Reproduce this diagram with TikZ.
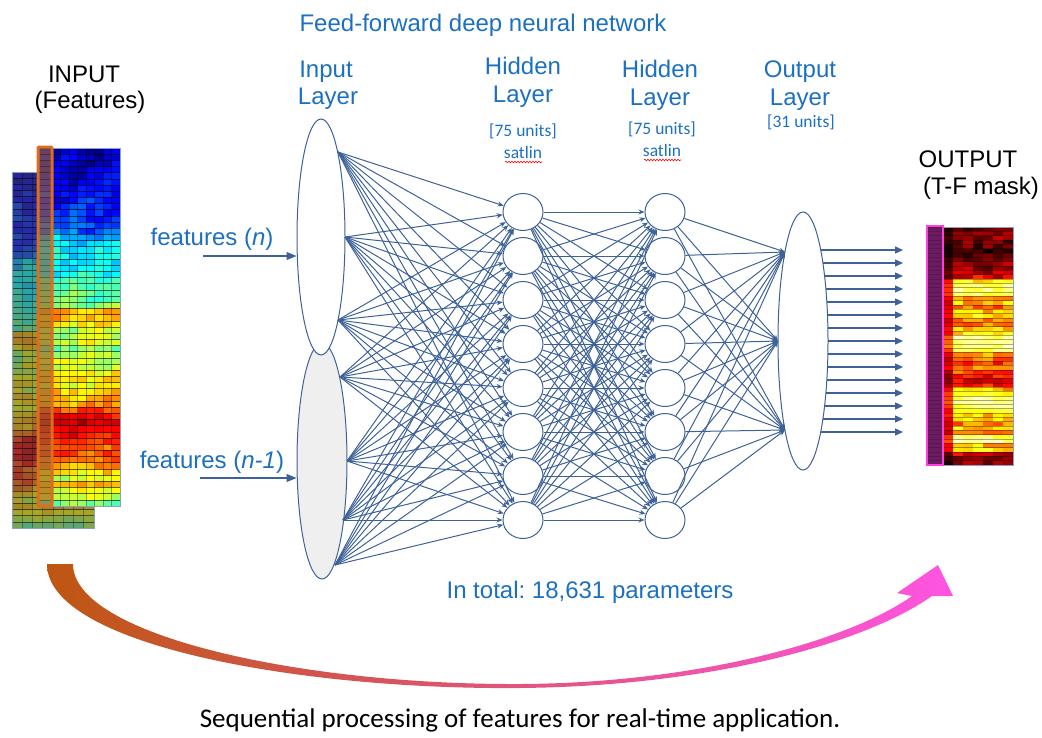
\documentclass[tikz,border=0pt]{standalone}
\usepackage{fontspec}
\setmainfont{Liberation Sans}
\newfontfamily\calfont{Carlito}
\usetikzlibrary{arrows.meta,shapes.geometric,decorations.pathmorphing}
\frenchspacing

\definecolor{netblue}{RGB}{62,98,152}
\definecolor{lblblue}{RGB}{28,112,192}
\definecolor{layergray}{RGB}{239,239,239}
\definecolor{framemag}{RGB}{255,64,224}
\definecolor{framefill}{RGB}{106,28,96}
\definecolor{frameorange}{RGB}{222,110,30}
\definecolor{arcL}{RGB}{190,86,16}
\definecolor{arcR}{RGB}{255,84,226}

% row profiles of the two spectrogram-like maps (0 = low, 1 = high)
\def\featvals{{0.06,0.07,0.08,0.09,0.1,0.12,0.13,0.14,0.15,0.16,0.17,0.18,0.2,0.22,
0.3,0.34,0.36,0.37,0.36,0.38,0.4,
0.44,0.46,0.47,0.48,0.5,
0.68,0.7,0.66,
0.56,0.55,0.58,0.5,0.56,0.6,0.58,
0.64,0.66,0.62,0.68,0.7,0.72,
0.8,0.88,0.92,0.9,0.88,0.84,
0.78,0.8,0.76,0.72,
0.64,0.6,0.7,0.62,0.58,0.5}}
\def\maskvals{{0.12,0.15,0.18,0.14,0.12,0.1,0.12,0.15,0.18,0.2,0.22,0.3,
0.65,0.8,0.82,0.76,
0.52,0.58,0.48,0.6,0.64,0.52,0.48,0.58,0.62,
0.82,0.88,0.84,0.76,
0.55,0.48,0.42,0.5,0.45,0.38,
0.28,0.33,
0.58,0.7,0.84,0.88,0.8,0.7,
0.58,0.64,0.48,0.62,0.52,
0.76,0.86,0.58,0.66,
0.28,0.2,0.15}}

\begin{document}
\begin{tikzpicture}[x=1pt,y=-1pt,
  neuron/.style={ellipse, draw=netblue, line width=1pt, fill=white,
    minimum width=40pt, minimum height=37pt, inner sep=0pt},
  layerbody/.style={ellipse, draw=netblue, line width=1pt, inner sep=0pt},
  edge/.style={draw=netblue, line width=1pt, -{Stealth[length=6pt,width=5pt]}},
  outarrow/.style={draw=netblue, line width=1.3pt, -{Triangle[length=8pt,width=7pt]}},
  featarrow/.style={draw=netblue, line width=1.1pt, -{Triangle[length=10pt,width=8pt]}},
  bluelbl/.style={text=lblblue, font=\fontsize{24}{28}\selectfont, inner sep=0pt, anchor=base},
  unitlbl/.style={text=lblblue, font=\calfont\fontsize{17.5}{20}\selectfont, inner sep=0pt, anchor=base},
  blacklbl/.style={text=black, font=\fontsize{24}{28}\selectfont, inner sep=0pt, anchor=base},
  squiggle/.style={draw=red, line width=0.6pt, decorate,
    decoration={snake, amplitude=0.8pt, segment length=3pt}},
  gridline/.style={draw=black, line width=0.6pt},
]
\useasboundingbox (0,0) rectangle (1042,737);

% ---------------- input feature maps ----------------
\pgfmathsetseed{4711}
% rear map (earlier frame), dimmed
\foreach \r in {0,...,57}{
  \pgfmathsetmacro\bv{\featvals[\r]}
  \foreach \c in {0,...,7}{
    \pgfmathsetmacro\v{max(0,min(1,\bv+0.05*rand+0.03*sin(70*\c+23*\r)))}
    \pgfmathsetmacro\cR{0.15+0.5*max(0,min(1,1.5-abs(4*\v-3)))}
    \pgfmathsetmacro\cG{0.15+0.5*max(0,min(1,1.5-abs(4*\v-2)))}
    \pgfmathsetmacro\cB{0.15+0.5*max(0,min(1,1.5-abs(4*\v-1)))}
    \definecolor{cellc}{rgb}{\cR,\cG,\cB}
    \fill[cellc] ({12+10.25*\c},{172+6.138*\r}) rectangle ++(10.25,6.138);
  }
}
\foreach \r in {0,...,58}
  \draw[gridline, opacity=.55] (12,{172+6.138*\r}) -- (94,{172+6.138*\r});
\foreach \c in {0,...,8}
  \draw[gridline, opacity=.3] ({12+10.25*\c},172) -- ({12+10.25*\c},528);
\draw[netblue!60, line width=0.8pt] (12,172) rectangle (94,528);

% front map (current frame)
\foreach \r in {0,...,57}{
  \pgfmathsetmacro\bv{\featvals[\r]}
  \foreach \c in {0,...,7}{
    \pgfmathsetmacro\v{max(0,min(1,\bv+0.05*rand+0.03*sin(50*\c+31*\r)))}
    \pgfmathsetmacro\cR{max(0,min(1,1.5-abs(4*\v-3)))}
    \pgfmathsetmacro\cG{max(0,min(1,1.5-abs(4*\v-2)))}
    \pgfmathsetmacro\cB{max(0,min(1,1.5-abs(4*\v-1)))}
    \definecolor{cellc}{rgb}{\cR,\cG,\cB}
    \fill[cellc] ({52+8.5*\c},{148+6.1724*\r}) rectangle ++(8.5,6.1724);
  }
}
\foreach \r in {0,...,58}
  \draw[gridline, opacity=.6] (52,{148+6.1724*\r}) -- (120,{148+6.1724*\r});
\foreach \c in {0,...,8}
  \draw[gridline, opacity=.35] ({52+8.5*\c},148) -- ({52+8.5*\c},506);
\draw[netblue!60, line width=0.8pt] (52,148) rectangle (120,506);

% highlighted feature column
\foreach \r in {0,...,57}{
  \pgfmathsetmacro\v{max(0,min(1,\featvals[\r]+0.04*rand))}
  \pgfmathsetmacro\cR{0.65*(0.15+0.5*max(0,min(1,1.5-abs(4*\v-3))))+0.35*0.88}
  \pgfmathsetmacro\cG{0.65*(0.15+0.5*max(0,min(1,1.5-abs(4*\v-2))))+0.35*0.45}
  \pgfmathsetmacro\cB{0.65*(0.15+0.5*max(0,min(1,1.5-abs(4*\v-1))))+0.35*0.12}
  \definecolor{cellc}{rgb}{\cR,\cG,\cB}
  \fill[cellc] (38,{148+6.1724*\r}) rectangle ++(14,6.1724);
  \draw[gridline, opacity=.3] (38,{148+6.1724*\r}) -- (52,{148+6.1724*\r});
}
\draw[frameorange, line width=3pt, rounded corners=1pt] (38,147) rectangle (52,506);

% ---------------- output mask ----------------
\foreach \r in {0,...,54}{
  \pgfmathsetmacro\bv{\maskvals[\r]}
  \foreach \c in {0,...,6}{
    \pgfmathsetmacro\v{max(0,min(1,(\bv+0.1*rand)*(\c==0 ? 0.55 : 1)))}
    \pgfmathsetmacro\cR{max(0,min(1,3*\v))}
    \pgfmathsetmacro\cG{max(0,min(1,3*\v-1))}
    \pgfmathsetmacro\cB{max(0,min(1,3*\v-2))}
    \definecolor{cellc}{rgb}{\cR,\cG,\cB}
    \fill[cellc] ({943+10*\c},{227+4.327*\r}) rectangle ++(10,4.327);
  }
}
\foreach \r in {0,...,55}
  \draw[gridline, opacity=.35, line width=0.5pt] (943,{227+4.327*\r}) -- (1013,{227+4.327*\r});
\draw[netblue!60, line width=0.8pt] (943,227) rectangle (1013,465);
\fill[framefill] (927,226) rectangle (943,465);
\foreach \r in {0,...,54}
  \draw[black, opacity=.15, line width=0.5pt] (927,{227+4.327*\r}) -- (943,{227+4.327*\r});
\draw[framemag, line width=2.5pt] (927,226) rectangle (943,465);

% ---------------- network ----------------
\node[layerbody, fill=layergray, minimum width=50pt, minimum height=236pt] (inB) at (322,461) {};
\node[layerbody, fill=white, minimum width=48pt, minimum height=236pt] (inA) at (321,237) {};
\node[layerbody, fill=white, minimum width=50pt, minimum height=258pt] (outL) at (803,341) {};

\foreach \i in {0,...,7}{
  \node[neuron] (h1-\i) at (523,{212+44*\i}) {};
  \node[neuron] (h2-\i) at (665,{212+44*\i}) {};
}

% fan-out points on the input layer
\coordinate (in1) at (338,152);
\coordinate (in2) at (345,237);
\coordinate (in3) at (338,320);
\coordinate (in4) at (340,377);
\coordinate (in5) at (347,461);
\coordinate (in6) at (343,520);
\coordinate (in7) at (335,565);
% fan-in points on the output layer
\coordinate (o1) at (785,252);
\coordinate (o2) at (778,341);
\coordinate (o3) at (785,430);

\foreach \p in {in1,in2,in3,in4,in5,in6,in7}
  \foreach \j in {0,...,7}
    \draw[edge] (\p) -- (h1-\j);
\foreach \i in {0,...,7}
  \foreach \j in {0,...,7}
    \draw[edge] (h1-\i) -- (h2-\j);
\foreach \i in {0,...,7}
  \foreach \p in {o1,o2,o3}
    \draw[edge] (h2-\i) -- (\p);

% output units
\foreach \k in {0,...,14}{
  \pgfmathsetmacro\yy{250+13*\k}
  \pgfmathsetmacro\xx{803+25*sqrt(1-((\yy-341)/129)^2)}
  \coordinate (os-\k) at (\xx,\yy);
  \coordinate (oe-\k) at (903,\yy);
  \draw[outarrow] (os-\k) -- (oe-\k);
}

% feature inputs
\coordinate (fa) at (203,256);
\coordinate (fb) at (200,478);
\draw[featarrow] (fa) -- (inA.west |- fa);
\draw[featarrow] (fb) -- (inB.west |- fb);

% ---------------- labels ----------------
\node[bluelbl] (title) at (483,31) {Feed-forward deep neural network};
\node[bluelbl] (inl1) at (326,77) {Input};
\node[bluelbl] (inl2) at (328,104) {Layer};
\node[bluelbl] (h1l1) at (523,74) {Hidden};
\node[bluelbl] (h1l2) at (523,102) {Layer};
\node[unitlbl] (h1u) at (523,136) {[75 units]};
\node[unitlbl] (h1s) at (523,158) {satlin};
\node[bluelbl] (h2l1) at (660,77) {Hidden};
\node[bluelbl] (h2l2) at (660,105) {Layer};
\node[unitlbl] (h2u) at (662,134) {[75 units]};
\node[unitlbl] (h2s) at (662,156) {satlin};
\node[bluelbl] (ol1) at (800,77) {Output};
\node[bluelbl] (ol2) at (800,105) {Layer};
\node[unitlbl] (ou) at (801,127) {[31 units]};
\draw[squiggle] (505,162) -- (542,162);
\draw[squiggle] (644,160) -- (681,160);

\node[bluelbl] (fn) at (212,245) {features (\textit{n})};
\node[bluelbl] (fn1) at (212,468) {features (\textit{n-1})};
\node[bluelbl] (tot) at (590,598) {In total: 18,631 parameters};

\node[blacklbl] (inp1) at (84,82) {INPUT};
\node[blacklbl] (inp2) at (90,108) {(Features)};
\node[blacklbl] (outp1) at (968,167) {OUTPUT};
\node[blacklbl] (outp2) at (981,194) {(T-F mask)};

% ---------------- sequential processing arrow ----------------
\shade[left color=arcL, right color=arcR]
  (47,564) .. controls (47,645) and (300,690) .. (520,688)
  .. controls (720,686) and (870,640) .. (932,596)
  -- (953,596) -- (938,565) -- (897,593) -- (912,596)
  .. controls (850,640) and (700,683) .. (520,684)
  .. controls (300,685) and (73,635) .. (73,564) -- cycle;

\node[text=black, font=\calfont\fontsize{27}{32}\selectfont, inner sep=0pt, anchor=base] (cap)
  at (520,727) {Sequential processing of features for real-time application.};
\end{tikzpicture}
\end{document}
